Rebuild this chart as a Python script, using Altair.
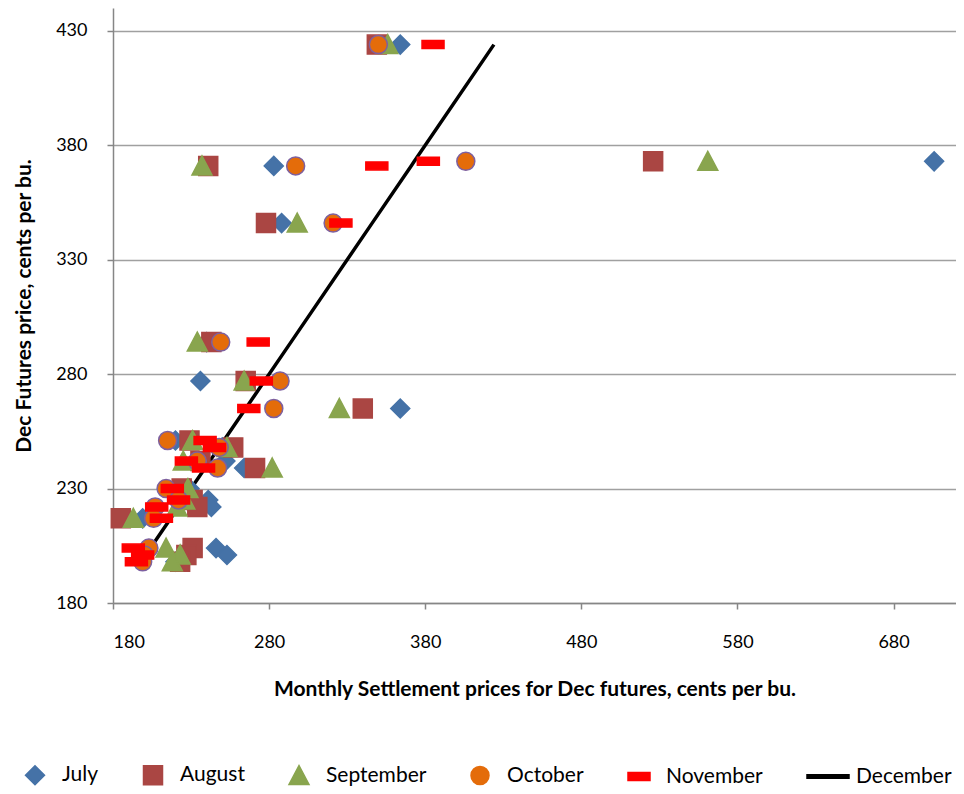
import altair as alt
import pandas as pd

# Dec futures final price (y) for each year, and monthly settlement prices (x)
dec_price = [424, 373, 371, 346, 294, 277, 265, 251, 248, 242, 239, 230, 225, 222, 217, 204, 201, 198]
july      = [364, 706, 283, 288, 240, 236, 364, 220, 250, 252, 264, 229, 241, 243, 199, 246, 253, 220]
august    = [349, 526, 241, 278, 243, 265, 340, 229, 257, 236, 271, 224, 231, 234, 185, 231, 227, 223]
september = [356, 561, 237, 298, 234, 264, 325, 231, 253, 225, 282, 228, 226, 221, 193, 214, 223, 218]
october   = [350, 406, 297, 321, 249, 287, 283, 215, 248, 234, 247, 214, 222, 207, 206, 203, 200, 199]
november  = [385, 382, 349, 326, 273, 275, 267, 239, 245, 227, 238, 218, 222, 208, 211, 193, 199, 195]

series_names = ["July", "August", "September", "October", "November", "December"]
fill_colors = ["#4572A7", "#AA4643", "#89A54E", "#E46C0A", "#FF0000", "#000000"]
stroke_colors = ["#4572A7", "#AA4643", "#89A54E", "#7D60A0", "#FF0000", "#000000"]
shapes = [
    "M-0.95,0L0,-0.95L0.95,0L0,0.95Z",
    "M-0.95,-0.95L0.95,-0.95L0.95,0.95L-0.95,0.95Z",
    "M0,-1L1,0.9L-1,0.9Z",
    "M-0.9,0A0.9,0.9,0,1,0,0.9,0A0.9,0.9,0,1,0,-0.9,0Z",
    "M-1.1,-0.4L1.1,-0.4L1.1,0.4L-1.1,0.4Z",
    "M-2.2,-0.17L2.0,-0.17L2.0,0.17L-2.2,0.17Z",
]

x_ticks = [180, 280, 380, 480, 580, 680]
y_ticks = [180, 230, 280, 330, 380, 430]

rows = []
for name, vals in zip(series_names[:5], [july, august, september, october, november]):
    for xv, yv in zip(vals, dec_price):
        rows.append({"series": name, "x": xv, "y": yv})
points = pd.DataFrame(rows)
dec_df = pd.DataFrame({"series": "December", "x": dec_price, "y": dec_price})

FONT = "Lato"

x_enc = alt.X(
    "x:Q",
    scale=alt.Scale(domain=[180, 720], nice=False, zero=False),
    axis=alt.Axis(
        values=x_ticks,
        title="Monthly Settlement prices for Dec futures, cents per bu.",
        grid=False,
        tickSize=6,
        labelPadding=24,
        titlePadding=27,
    ),
)
y_enc = alt.Y(
    "y:Q",
    scale=alt.Scale(domain=[180, 440], nice=False, zero=False),
    axis=alt.Axis(
        values=y_ticks,
        title="Dec Futures price, cents per bu.",
        grid=True,
        tickSize=6,
        labelPadding=20,
        titlePadding=21,
    ),
)

color_scale = alt.Scale(domain=series_names, range=fill_colors)
legend = alt.Legend(
    title=None,
    orient="none",
    legendX=-89,
    legendY=756,
    direction="horizontal",
    columnPadding=41,
    labelOffset=16,
    labelFontSize=21,
    labelFont=FONT,
    labelColor="#000000",
    symbolSize=400,
    symbolStrokeWidth=1.5,
)

line = alt.Chart(dec_df).mark_line(strokeWidth=3.5, color="#000000").encode(
    x=x_enc,
    y=y_enc,
    color=alt.Color("series:N", scale=color_scale, legend=legend),
    order="x:Q",
)

pts = alt.Chart(points).mark_point(filled=True, opacity=1, strokeWidth=1.5, size=400).encode(
    x=x_enc,
    y=y_enc,
    color=alt.Color("series:N", scale=color_scale, legend=legend),
    shape=alt.Shape("series:N", scale=alt.Scale(domain=series_names, range=shapes), legend=legend),
    stroke=alt.Stroke("series:N", scale=alt.Scale(domain=series_names, range=stroke_colors), legend=legend),
)

chart = (
    alt.layer(line, pts)
    .properties(
        width=843,
        height=595,
        autosize=alt.AutoSizeParams(type="none"),
        padding={"left": 105, "top": 0, "right": 0, "bottom": 183},
    )
    .configure_view(stroke=None)
    .configure_axis(
        labelFont=FONT,
        labelFontSize=18,
        labelColor="#000000",
        titleFont=FONT,
        titleFontSize=21,
        titleFontWeight="bold",
        titleColor="#000000",
        domainColor="#868686",
        domainWidth=1.5,
        tickColor="#868686",
        tickWidth=1.5,
        gridColor="#A0A0A0",
        gridWidth=1.5,
    )
)

chart.save("out.html", embed_options={"renderer": "svg", "actions": False})
